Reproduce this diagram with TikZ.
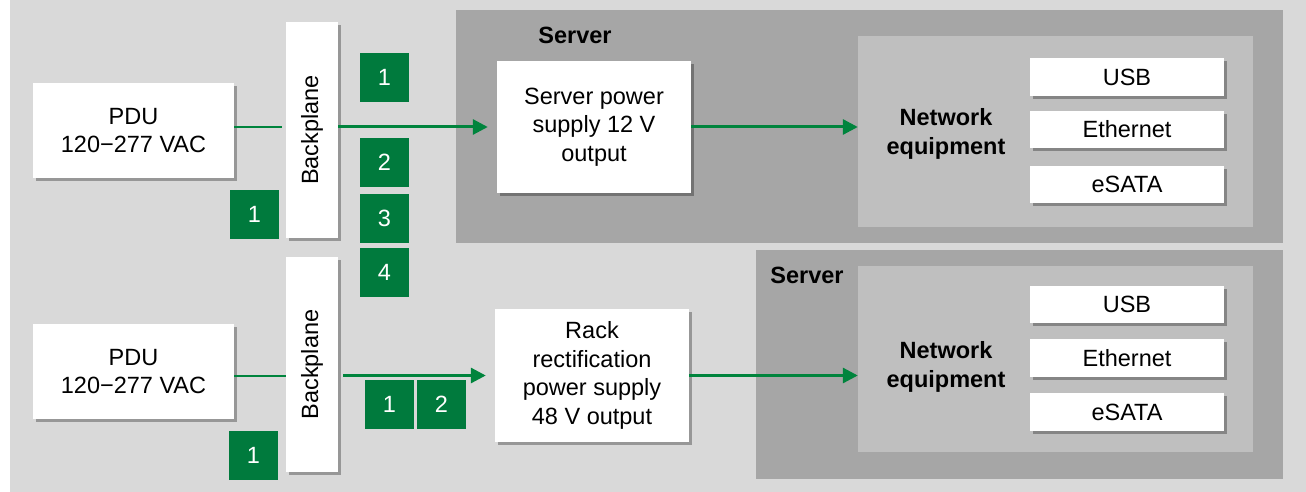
\documentclass[tikz,border=0pt]{standalone}
\usepackage{fontspec}
\setmainfont{Liberation Sans}
\usetikzlibrary{shadows,arrows.meta,calc}
\definecolor{bggray}{HTML}{D9D9D9}
\definecolor{servergray}{HTML}{A6A6A6}
\definecolor{innergray}{HTML}{BFBFBF}
\definecolor{badgegreen}{HTML}{007A3D}
\definecolor{linegreen}{HTML}{00843D}
\begin{document}
\begin{tikzpicture}[x=1pt,y=1pt,
  every node/.style={font=\fontsize{23.5}{28.5}\selectfont, inner sep=0pt, text=black},
  box/.style={fill=white, draw=none, align=center,
    drop shadow={shadow xshift=3pt, shadow yshift=-3pt, fill=black, opacity=0.3}},
  badge/.style={fill=badgegreen, text=white, minimum width=49pt, minimum height=49pt},
  serverbox/.style={fill=servergray, draw=none},
  innerbox/.style={fill=innergray, draw=none},
  thinline/.style={draw=linegreen, line width=2pt},
  flow/.style={draw=linegreen, line width=3pt, -{Triangle[length=15pt,width=15pt]}},
  boldlabel/.style={font=\fontsize{23.5}{28.5}\selectfont\bfseries, align=center}
]
\useasboundingbox (0,0) rectangle (1306,-492);
\fill[white] (0,0) rectangle (1306,-492);
\fill[bggray] (10,0) rectangle (1306,-492);

% server enclosures
\node[serverbox, minimum width=827pt, minimum height=233pt] (srv1) at (869.5,-126.5) {};
\node[serverbox, minimum width=527pt, minimum height=229pt] (srv2) at (1019.5,-364.5) {};
\node[boldlabel] (srv1t) at (575,-35) {Server};
\node[boldlabel] (srv2t) at (807,-275) {Server};

% network inner boxes
\node[innerbox, minimum width=395pt, minimum height=191pt] (net1) at (1055.5,-131.5) {};
\node[innerbox, minimum width=395pt, minimum height=186pt] (net2) at (1055.5,-359) {};
\node[boldlabel] (net1t) at (946,-134) {Network\\equipment};
\node[boldlabel] (net2t) at (946,-367) {Network\\equipment};

% port boxes
\node[box, minimum width=194pt, minimum height=38pt] (usb1) at (1127,-77) {USB};
\node[box, minimum width=194pt, minimum height=37pt] (eth1) at (1127,-129.5) {Ethernet};
\node[box, minimum width=194pt, minimum height=37pt] (sata1) at (1127,-184.5) {eSATA};
\node[box, minimum width=194pt, minimum height=37pt] (usb2) at (1127,-304.5) {USB};
\node[box, minimum width=194pt, minimum height=38pt] (eth2) at (1127,-358) {Ethernet};
\node[box, minimum width=194pt, minimum height=38pt] (sata2) at (1127,-412) {eSATA};

% PDUs
\node[box, minimum width=201pt, minimum height=95pt] (pdu1) at (133.5,-130.5) {PDU\\120\textminus277 VAC};
\node[box, minimum width=201pt, minimum height=95pt] (pdu2) at (133.5,-371.5) {PDU\\120\textminus277 VAC};

% backplanes
\node[box, minimum width=52pt, minimum height=216pt] (bp1) at (312,-130) {};
\node[rotate=90] (bp1t) at (bp1) {Backplane};
\node[box, minimum width=52pt, minimum height=215pt] (bp2) at (312,-364.5) {};
\node[rotate=90] (bp2t) at (bp2) {Backplane};

% power supplies
\node[box, minimum width=194pt, minimum height=132pt] (ps1) at (594,-127) {Server power\\supply 12 V\\output};
\node[box, minimum width=194pt, minimum height=133pt] (ps2) at (592,-375.5) {Rack\\rectification\\power supply\\48 V output};

% badges
\node[badge] (t1) at (384.5,-77.5) {1};
\node[badge] (t2) at (384.5,-162.5) {2};
\node[badge] (t3) at (384.5,-218.5) {3};
\node[badge] (t4) at (384.5,-272.5) {4};
\node[badge] (tl) at (254.5,-214.5) {1};
\node[badge] (bl) at (253.5,-455) {1};
\node[badge] (b1) at (389.5,-404.5) {1};
\node[badge] (b2) at (441.5,-404.5) {2};

% connectors
\draw[thinline, shorten >=4pt] (pdu1.east |- ps1.west) -- (bp1.west |- ps1.west);
\draw[flow, shorten >=9pt] (bp1.east |- ps1.west) -- (ps1.west);
\draw[flow] (ps1.east) -- (ps1.east -| net1.west);

\draw[thinline] (pdu2.east |- ps2.west) -- (bp2.west |- ps2.west);
\draw[flow, shorten <=5pt, shorten >=9pt] (bp2.east |- ps2.west) -- (ps2.west);
\draw[flow] (ps2.east) -- (ps2.east -| net2.west);
\end{tikzpicture}
\end{document}
